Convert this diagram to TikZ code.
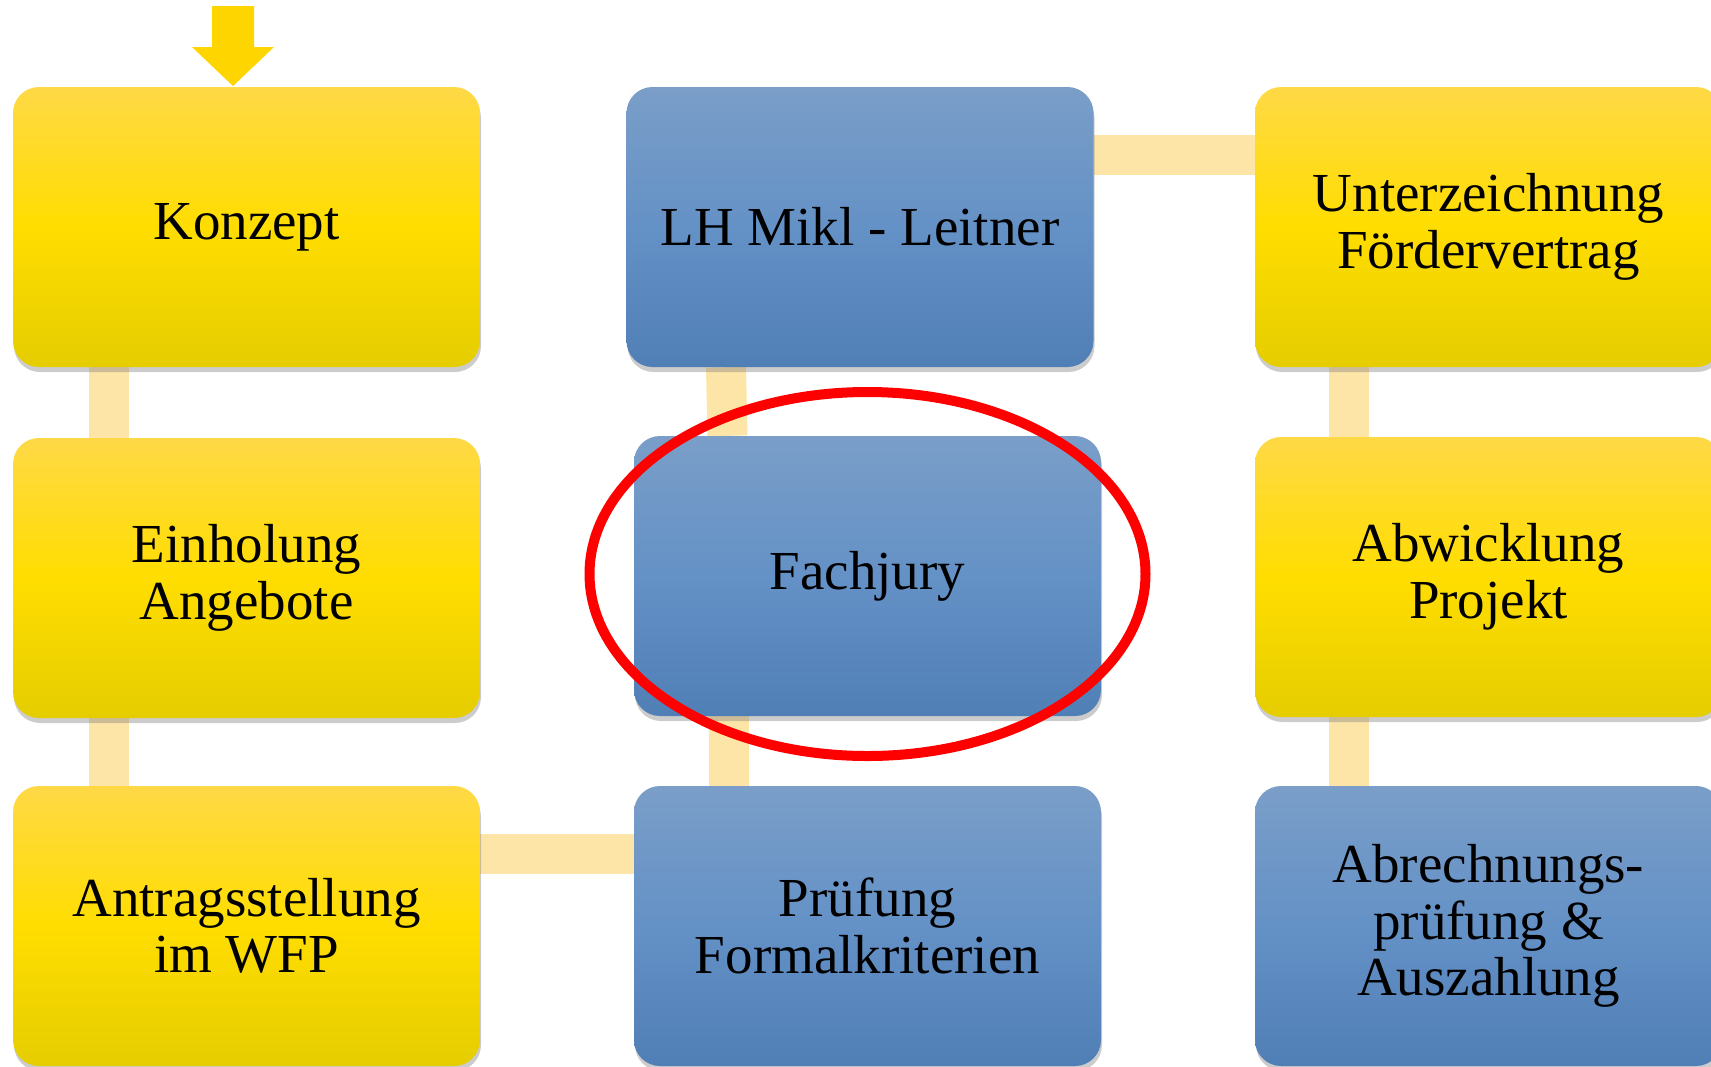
\documentclass[tikz,border=0pt]{standalone}
\usepackage{fontspec}
\setmainfont{Liberation Serif}
\usetikzlibrary{shadows,backgrounds}
\definecolor{ytop}{RGB}{255,217,70}
\definecolor{ymid}{RGB}{255,221,0}
\definecolor{ybot}{RGB}{229,205,0}
\definecolor{btop}{RGB}{122,158,200}
\definecolor{bmid}{RGB}{100,145,198}
\definecolor{bbot}{RGB}{80,127,182}
\definecolor{connc}{RGB}{253,229,167}
\definecolor{arrowc}{RGB}{255,213,0}
\tikzset{
  stepbox/.style={rectangle, rounded corners=26pt, minimum width=467pt, minimum height=280pt,
    inner sep=0pt, align=center, font=\fontsize{55}{56.5}\selectfont,
    drop shadow={opacity=0.4, shadow xshift=1pt, shadow yshift=-5pt}},
  ybox/.style={stepbox, top color=ytop, bottom color=ybot, middle color=ymid},
  bbox/.style={stepbox, top color=btop, bottom color=bbot, middle color=bmid},
  conn/.style={connc, line width=40pt},
  ring/.style={draw=red, line width=10pt}
}
\begin{document}
\begin{tikzpicture}[x=1pt,y=-1pt]
\useasboundingbox (0,0) rectangle (1711,1066);
\node[ybox] (konzept) at (246.5,227) {Konzept};
\node[ybox] (einholung) at (246.5,578) {Einholung\\Angebote};
\node[ybox] (antrag) at (246.5,926) {Antragsstellung\\im WFP};
\node[bbox] (lh) at (860,227) {LH Mikl - Leitner};
\node[bbox] (fj) at (867.5,576) {Fachjury};
\node[bbox] (pruef) at (867.5,926) {Prüfung\\Formalkriterien};
\node[ybox] (unter) at (1488.5,227) {Unterzeichnung\\Fördervertrag};
\node[ybox] (abw) at (1488.5,577) {Abwicklung\\Projekt};
\node[bbox] (abr) at (1488.5,926) {Abrechnungs-\\prüfung \&\\Auszahlung};
\begin{scope}[on background layer]
\draw[conn] ([xshift=-137.5pt]konzept.south) -- ([xshift=-137.5pt]einholung.north);
\draw[conn] ([xshift=-137.5pt]einholung.south) -- ([xshift=-137.5pt]antrag.north);
\draw[conn] ([yshift=72pt]antrag.east) -- ([yshift=72pt]pruef.west);
\draw[conn] ([xshift=-139pt]pruef.north) -- ([xshift=-139pt]fj.south);
\draw[conn] ([xshift=-134pt]lh.south) -- ([xshift=-140pt]fj.north);
\draw[conn] ([yshift=72pt]lh.east) -- ([yshift=72pt]unter.west);
\draw[conn] ([xshift=-139.5pt]unter.south) -- ([xshift=-139.5pt]abw.north);
\draw[conn] ([xshift=-139.5pt]abw.south) -- ([xshift=-139.5pt]abr.north);
\end{scope}
\coordinate (arrtip) at (233,86);
\fill[arrowc] (212,6) -- (254,6) -- (254,47) -- (274,47) -- (arrtip) -- (192,47) -- (212,47) -- cycle;
\draw[ring] ([yshift=2pt]fj.center) ellipse [x radius=278, y radius=182];
\end{tikzpicture}
\end{document}
